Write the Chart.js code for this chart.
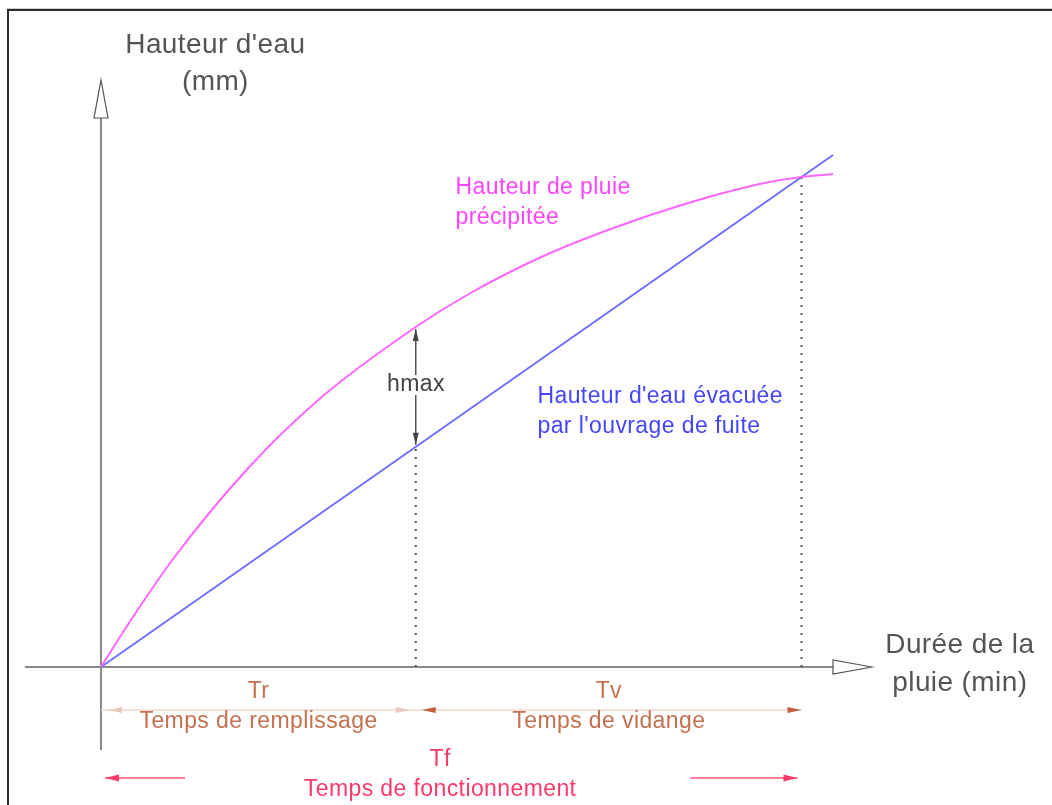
<!DOCTYPE html>
<html lang="fr">
<head>
<meta charset="UTF-8">
<title>Hauteur d'eau - méthode des pluies</title>
<script src="https://cdn.jsdelivr.net/npm/chart.js"></script>
<style>
    body { margin: 0; background: #fff; overflow: hidden; }
    #wrap { position: relative; width: 1052px; height: 805px; }
    #frame {
        position: absolute; left: 7px; top: 9px; right: 0; bottom: 0;
        border-top: 2px solid #2a2a2a; border-left: 2px solid #2a2a2a;
        box-shadow: 0 -1px 0 #cfcfcf;
        pointer-events: none;
    }
</style>
</head>
<body>
<div id="wrap">
    <canvas id="myChart"></canvas>
    <div id="frame"></div>
</div>
<script>
// durée de la pluie (min, unités arbitraires)
const duree = [0, 4, 10, 20, 30, 43, 50, 60, 70, 80, 90, 95.7, 100];
// hauteur de pluie précipitée (mm)
const pluie = [0, 9.2, 21.9, 39.6, 53.8, 68.0, 74.4, 81.9, 87.8, 92.7, 96.6, 98.0, 98.6];
// hauteur d'eau évacuée par l'ouvrage de fuite (droite)
const dureeFuite = [0, 100];
const evacuee = [0, 102.4];
// temps caractéristiques
const tRemplissage = 43;
const tFonctionnement = 95.7;

const font = '"Liberation Sans", Arial, sans-serif';

function arrowHead(ctx, x, y, dir, len, half, fill, stroke) {
    // dir: 'up' | 'down' | 'left' | 'right'
    ctx.beginPath();
    if (dir === 'up') { ctx.moveTo(x, y); ctx.lineTo(x - half, y + len); ctx.lineTo(x + half, y + len); }
    if (dir === 'down') { ctx.moveTo(x, y); ctx.lineTo(x - half, y - len); ctx.lineTo(x + half, y - len); }
    if (dir === 'left') { ctx.moveTo(x, y); ctx.lineTo(x + len, y - half); ctx.lineTo(x + len, y + half); }
    if (dir === 'right') { ctx.moveTo(x, y); ctx.lineTo(x - len, y - half); ctx.lineTo(x - len, y + half); }
    ctx.closePath();
    if (fill) { ctx.fillStyle = fill; ctx.fill(); }
    if (stroke) { ctx.strokeStyle = stroke; ctx.lineWidth = 1.2; ctx.stroke(); }
}

function valueAt(xs, ys, x) {
    for (let i = 0; i < xs.length; i++) if (xs[i] === x) return ys[i];
    return ys[ys.length - 1];
}

// centred text that ignores the trailing letter spacing
function label(ctx, txt, x, y, spacing) {
    ctx.letterSpacing = spacing + 'px';
    ctx.fillText(txt, x + spacing / 2, y);
    ctx.letterSpacing = '0px';
}

const decor = {
    id: 'decor',
    beforeDatasetsDraw(chart) {
        const ctx = chart.ctx;
        const sx = chart.scales.x, sy = chart.scales.y;
        const X = v => sx.getPixelForValue(v), Y = v => sy.getPixelForValue(v);
        ctx.save();

        // axes
        ctx.strokeStyle = '#8a8a8a';
        ctx.lineWidth = 2;
        ctx.beginPath();
        ctx.moveTo(X(-10.4), Y(0)); ctx.lineTo(X(100), Y(0));
        ctx.moveTo(X(0), Y(-16.6)); ctx.lineTo(X(0), Y(109.8));
        ctx.stroke();
        // open arrowheads
        arrowHead(ctx, X(0), Y(117.4), 'up', Y(109.8) - Y(117.4), 7, '#fff', '#555');
        arrowHead(ctx, X(105.3), Y(0), 'right', X(105.3) - X(100), 7, '#fff', '#555');

        // dotted verticals
        ctx.strokeStyle = '#555';
        ctx.lineWidth = 2;
        ctx.setLineDash([2, 6]);
        ctx.beginPath();
        ctx.moveTo(X(tRemplissage), Y(0)); ctx.lineTo(X(tRemplissage), Y(tRemplissage * evacuee[1] / 100));
        ctx.moveTo(X(tFonctionnement), Y(0)); ctx.lineTo(X(tFonctionnement), Y(valueAt(duree, pluie, tFonctionnement)));
        ctx.stroke();
        ctx.setLineDash([]);
        ctx.restore();
    },
    afterDraw(chart) {
        const ctx = chart.ctx;
        const sx = chart.scales.x, sy = chart.scales.y;
        const X = v => sx.getPixelForValue(v), Y = v => sy.getPixelForValue(v);
        ctx.save();
        ctx.textBaseline = 'middle';

        // axis titles
        ctx.fillStyle = '#555';
        ctx.font = '28px ' + font;
        ctx.textAlign = 'center';
        label(ctx, "Hauteur d'eau", X(15.6), Y(124.4), 0.4);
        label(ctx, '(mm)', X(15.6), Y(117), 0.4);
        label(ctx, 'Durée de la', X(117.3), Y(4.4), 0.4);
        label(ctx, 'pluie (min)', X(117.3), Y(-3.2), 0.4);

        // curve labels
        ctx.font = '23px ' + font;
        ctx.textAlign = 'left';
        ctx.fillStyle = '#ff44ff';
        label(ctx, 'Hauteur de pluie', X(48.4), Y(95.8), 0.4);
        label(ctx, 'précipitée', X(48.4), Y(89.8), 0.4);
        ctx.fillStyle = '#4646ff';
        label(ctx, "Hauteur d'eau évacuée", X(59.6), Y(54), 0.4);
        label(ctx, "par l'ouvrage de fuite", X(59.6), Y(48), 0.4);

        // hmax
        const xr = X(tRemplissage);
        const yTop = Y(valueAt(duree, pluie, tRemplissage));
        const yBot = Y(tRemplissage * evacuee[1] / 100);
        ctx.strokeStyle = '#555';
        ctx.lineWidth = 1.5;
        ctx.beginPath();
        ctx.moveTo(xr, yTop + 2); ctx.lineTo(xr, yBot - 2);
        ctx.stroke();
        arrowHead(ctx, xr, yTop + 2, 'up', 12, 3, '#444');
        arrowHead(ctx, xr, yBot - 2, 'down', 12, 3, '#444');
        ctx.font = '23px ' + font;
        ctx.textAlign = 'center';
        ctx.letterSpacing = '0.4px';
        const hw = ctx.measureText('hmax').width;
        ctx.letterSpacing = '0px';
        ctx.fillStyle = '#fff';
        ctx.fillRect(xr - hw / 2, Y(56.4) - 10, hw, 20);
        ctx.fillStyle = '#444';
        label(ctx, 'hmax', xr, Y(56.4), 0.4);

        // Tr / Tv dimension line
        const yd = Y(-8.6);
        ctx.strokeStyle = '#f3d6cd';
        ctx.lineWidth = 1.5;
        ctx.beginPath();
        ctx.moveTo(X(0), yd); ctx.lineTo(X(tFonctionnement), yd);
        ctx.stroke();
        arrowHead(ctx, X(0) + 7, yd, 'left', 14, 3, '#ecc9bd');
        arrowHead(ctx, xr - 6, yd, 'right', 14, 3, '#ecc9bd');
        arrowHead(ctx, xr + 6, yd, 'left', 14, 3, '#c0603f');
        arrowHead(ctx, X(tFonctionnement), yd, 'right', 14, 3, '#c0603f');

        ctx.fillStyle = '#c4714f';
        ctx.font = '23px ' + font;
        label(ctx, 'Tr', X(tRemplissage / 2), Y(-5), 0.4);
        label(ctx, 'Temps de remplissage', X(tRemplissage / 2), Y(-11), 0.4);
        const mid = (tRemplissage + tFonctionnement) / 2;
        label(ctx, 'Tv', X(mid), Y(-5), 0.4);
        label(ctx, 'Temps de vidange', X(mid), Y(-11), 0.4);

        // Tf
        const yf = Y(-22.2);
        ctx.strokeStyle = '#ff7f9f';
        ctx.lineWidth = 2;
        ctx.beginPath();
        ctx.moveTo(X(0) + 4, yf); ctx.lineTo(X(11.5), yf);
        ctx.moveTo(X(80.5), yf); ctx.lineTo(X(tFonctionnement) - 4, yf);
        ctx.stroke();
        arrowHead(ctx, X(0) + 4, yf, 'left', 14, 3.5, '#ff3a6a');
        arrowHead(ctx, X(tFonctionnement) - 4, yf, 'right', 14, 3.5, '#ff3a6a');
        ctx.fillStyle = '#ff3a6a';
        label(ctx, 'Tf', X(46.3), Y(-18.6), 0.4);
        label(ctx, 'Temps de fonctionnement', X(46.3), Y(-24.6), 0.4);

        ctx.restore();
    }
};

const ctx = document.getElementById('myChart').getContext('2d');
const myChart = new Chart(ctx, {
    type: 'line',
    data: {
        datasets: [{
            label: 'Hauteur de pluie précipitée',
            data: duree.map((t, i) => ({ x: t, y: pluie[i] })),
            borderColor: '#ff66ff',
            borderWidth: 2,
            pointRadius: 0,
            cubicInterpolationMode: 'monotone',
            clip: false
        }, {
            label: "Hauteur d'eau évacuée",
            data: dureeFuite.map((t, i) => ({ x: t, y: evacuee[i] })),
            borderColor: '#6f6fff',
            borderWidth: 2,
            pointRadius: 0,
            clip: false
        }]
    },
    options: {
        responsive: true,
        maintainAspectRatio: false,
        animation: false,
        layout: { padding: { left: 101, right: 219, top: 167, bottom: 138 } },
        plugins: { legend: { display: false }, tooltip: { enabled: false } },
        scales: {
            x: { type: 'linear', min: 0, max: 100, display: false },
            y: { type: 'linear', min: 0, max: 100, display: false }
        }
    },
    plugins: [decor]
});
</script>
</body>
</html>
